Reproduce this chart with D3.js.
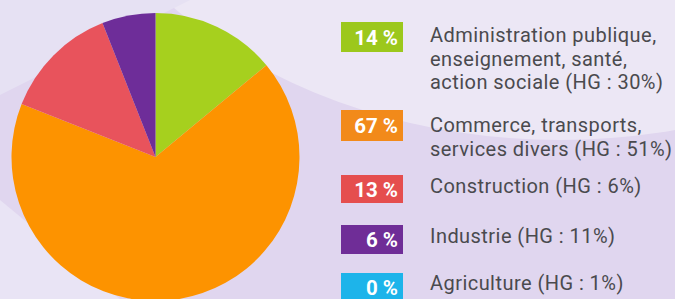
<!DOCTYPE html>
<html><head><meta charset="utf-8">
<script src="https://cdn.jsdelivr.net/npm/d3@7"></script>
<style>html,body{margin:0;padding:0;overflow:hidden;background:#e3dbf0}</style>
</head><body>
<svg id="chart" width="675" height="299"></svg>
<script>
const categories = ["Administration publique, enseignement, santé, action sociale", "Commerce, transports, services divers", "Construction", "Industrie", "Agriculture"];
const labelLines = [["Administration publique,", "enseignement, santé,", "action sociale (HG : 30%)"], ["Commerce, transports,", "services divers (HG : 51%)"], ["Construction (HG : 6%)"], ["Industrie (HG : 11%)"], ["Agriculture (HG : 1%)"]];
const values = [14, 67, 13, 6, 0];
const hgValues = [30, 51, 6, 11, 1];
const pieColors = ["#a6d01e", "#fd9300", "#e8535c", "#6e2d99", "#1fb5ea"];
const boxColors = ["#9cc81c", "#f28a1a", "#e54e4e", "#6f2d97", "#1db4ea"];

const svg = d3.select("#chart");
const W = 675, H = 299;

// background
svg.append("rect").attr("width",W).attr("height",H).attr("fill","#e0d6ef");
svg.append("ellipse").attr("cx",560).attr("cy",-260).attr("rx",520).attr("ry",400).attr("fill","#ece7f5");
svg.append("path").attr("d","M0,200 L0,299 L120,299 Z").attr("fill","#e9e4f5");
svg.append("path").attr("d","M0,0 L190,0 L0,95 Z").attr("fill","#e6e1f3");

// pie
const cx = 155.5, cy = 157, R = 144;
const pie = d3.pie().sort(null).value(d => d);
const arc = d3.arc().innerRadius(0).outerRadius(R);
svg.append("g").attr("transform",`translate(${cx},${cy})`)
  .selectAll("path").data(pie(values)).join("path")
  .attr("d", arc).attr("fill", (d,i) => pieColors[i]);

// legend
const boxY = [22, 110, 175, 225, 273];
const boxH = [30, 31, 28, 29, 28];
const textY = [[42, 65.5, 89], [132, 155.5], [193], [243], [290]];
const leg = svg.append("g");
values.forEach((v, i) => {
  leg.append("rect").attr("x",341).attr("y",boxY[i]).attr("width",62).attr("height",boxH[i]).attr("fill",boxColors[i]);
  leg.append("text").attr("x",398).attr("y",boxY[i] + boxH[i]/2 + 7.5)
    .attr("text-anchor","end").attr("font-family","Roboto, sans-serif").attr("font-weight","bold")
    .attr("font-size",20.5).attr("fill","#ffffff").text(v + " %");
  labelLines[i].forEach((line, j) => {
    leg.append("text").attr("x",430).attr("y",textY[i][j])
      .attr("font-family","Roboto, sans-serif").attr("font-size",20).attr("letter-spacing",0.45)
      .attr("fill","#4a4a4e").text(line);
  });
});
</script>
</body></html>
